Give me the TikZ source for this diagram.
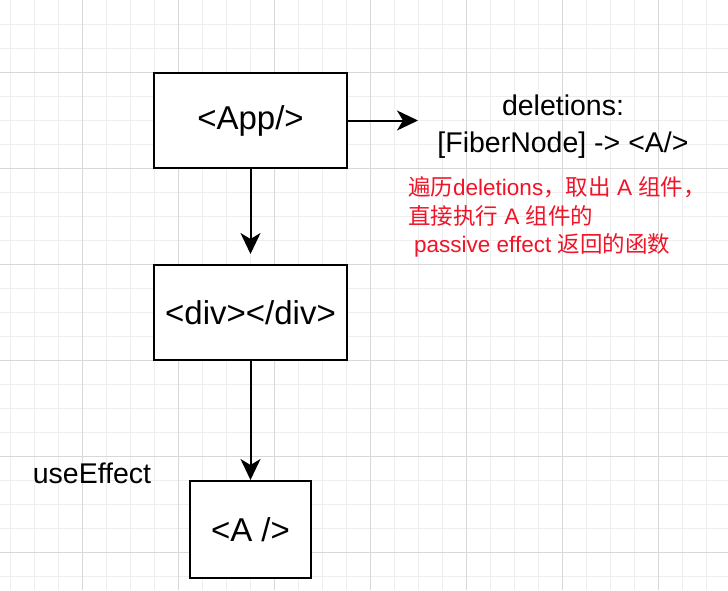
\documentclass[tikz,border=0pt]{standalone}
\usepackage{fontspec}
\setmainfont{Liberation Sans}
\newfontfamily\cjk{Noto Sans CJK SC}
\usepackage{tikz}
\usetikzlibrary{arrows.meta}

\definecolor{gridminor}{RGB}{238,238,238}
\definecolor{gridmajor}{RGB}{216,216,216}
\definecolor{notered}{RGB}{240,20,40}

\tikzset{
  compbox/.style={draw=black, line width=2pt, fill=white, inner sep=0pt,
    minimum width=193pt, minimum height=95pt, font=\fontsize{33}{38}\selectfont},
  link/.style={line width=2pt, -{Stealth[length=21pt,width=20pt,inset=6pt]}},
  bigtext/.style={font=\fontsize{28.5}{33}\selectfont, inner sep=0pt},
}

\begin{document}
\begin{tikzpicture}[x=1pt,y=-1pt]
\fill[white] (0,0) rectangle (728,590);
\useasboundingbox (0,0) rectangle (728,590);

% grid
\foreach \x in {0,1,...,30} {
\draw[gridminor, line width=1pt] (10+24*\x,0) -- (10+24*\x,590);
}
\foreach \y in {1,2,...,24} {
\draw[gridminor, line width=1pt] (0,24*\y) -- (728,24*\y);
}
\foreach \x in {0,1,...,6} {
\draw[gridmajor, line width=1pt] (82+96*\x,0) -- (82+96*\x,590);
}
\foreach \y in {0,1,...,5} {
\draw[gridmajor, line width=1pt] (0,72+96*\y) -- (728,72+96*\y);
}

% components
\node[compbox] (app) at (250.5,120.5) {<App/>};
\node[compbox] (div) at (250.5,312.5) {<div></div>};
\node[compbox, minimum width=121pt, minimum height=97pt] (a) at (250.5,529.5) {<A />};

\coordinate (deltip) at (418,120.5);
\draw[link, shorten >=10pt] (app) -- (div);
\draw[link] (div) -- (a);
\draw[link] (app) -- (deltip);

% labels
\node[bigtext] (del) at (563,105) {deletions:};
\node[bigtext] (fiber) at (563,145) {[FiberNode] -> <A/>};
\node[bigtext] (hook) at (92,473) {useEffect};

\node[anchor=west, align=left, inner sep=0pt, text=notered,
  font=\fontsize{22.5}{28.5}\selectfont] (note) at (408,217)
  {{\cjk 遍历}deletions{\cjk ，取出} A {\cjk 组件，}\\
   {\cjk 直接执行} A {\cjk 组件的}\\
   \hspace*{6pt}passive effect {\cjk 返回的函数}};
\end{tikzpicture}
\end{document}
